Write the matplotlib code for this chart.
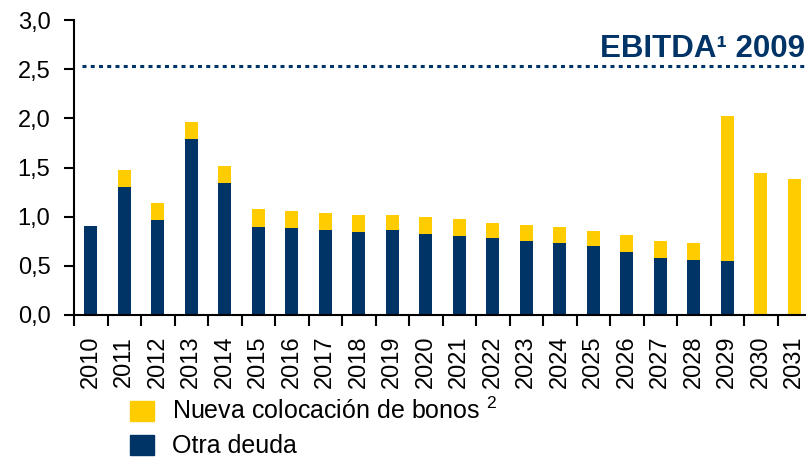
import numpy as np
import matplotlib
matplotlib.use("Agg")
from matplotlib import pyplot as plt
from matplotlib.patches import Patch

plt.rcParams['font.family'] = ['Liberation Sans', 'DejaVu Sans']
plt.rcParams['mathtext.fontset'] = 'custom'
plt.rcParams['mathtext.rm'] = 'Liberation Sans'

# Datos
years = [str(y) for y in range(2010, 2032)]
otra_deuda = [0.91, 1.30, 0.97, 1.79, 1.34, 0.90, 0.885, 0.865, 0.845, 0.865,
              0.825, 0.805, 0.785, 0.755, 0.73, 0.70, 0.64, 0.58, 0.56, 0.545,
              0.0, 0.0]
nueva_bonos = [0.0, 0.175, 0.17, 0.175, 0.175, 0.175, 0.175, 0.175, 0.175, 0.15,
               0.17, 0.17, 0.15, 0.16, 0.165, 0.155, 0.175, 0.175, 0.175, 1.48,
               1.445, 1.385]
ebitda_2009 = 2.53
yticks = [0.0, 0.5, 1.0, 1.5, 2.0, 2.5, 3.0]

navy = '#003366'
yellow = '#ffcc00'

fig = plt.figure(figsize=(8.06, 4.58), dpi=100)
ax = fig.add_axes([74 / 806, 143 / 458, 737 / 806, 295 / 458])

x = np.arange(len(years))
ax.bar(x, otra_deuda, width=0.4, color=navy)
ax.bar(x, nueva_bonos, width=0.4, bottom=otra_deuda, color=yellow)

# linea EBITDA
ax.plot([-0.25, len(years) - 0.5], [ebitda_2009, ebitda_2009], color=navy,
        lw=2.2, dashes=[1.3, 1.4], dash_capstyle='butt', clip_on=False)
fig.text(805 / 806, 1 - 57 / 458, 'EBITDA¹ 2009', ha='right', va='baseline',
         fontsize=22.5, fontweight='bold', color=navy)

ax.set_xlim(-0.5, len(years) - 0.5)
ax.set_ylim(0, 3)
ax.set_yticks(yticks)
ax.set_yticklabels([f'{v:.1f}'.replace('.', ',') for v in yticks], fontsize=17)

# ticks entre categorias, etiquetas centradas
ax.set_xticks(x - 0.5)
ax.set_xticklabels([])
ax.set_xticks(x, minor=True)
ax.set_xticklabels(years, minor=True, rotation=90, fontsize=17)
ax.tick_params(axis='x', which='major', length=8, width=1.5, direction='out')
ax.tick_params(axis='x', which='minor', length=0, pad=15)
ax.tick_params(axis='y', length=7, width=1.5, pad=10)

for s in ['top', 'right']:
    ax.spines[s].set_visible(False)
for s in ['left', 'bottom']:
    ax.spines[s].set_linewidth(1.5)

handles = [Patch(color=yellow, label='Nueva colocación de bonos $^{2}$'),
           Patch(color=navy, label='Otra deuda')]
fig.legend(handles=handles, loc='upper left', bbox_to_anchor=(130 / 806, 1 - 398 / 458),
           frameon=False, fontsize=18, handlelength=0.96, handleheight=0.85,
           handletextpad=0.72, labelspacing=0.4, borderaxespad=0, borderpad=0)

fig.savefig('out.png', dpi=100)
